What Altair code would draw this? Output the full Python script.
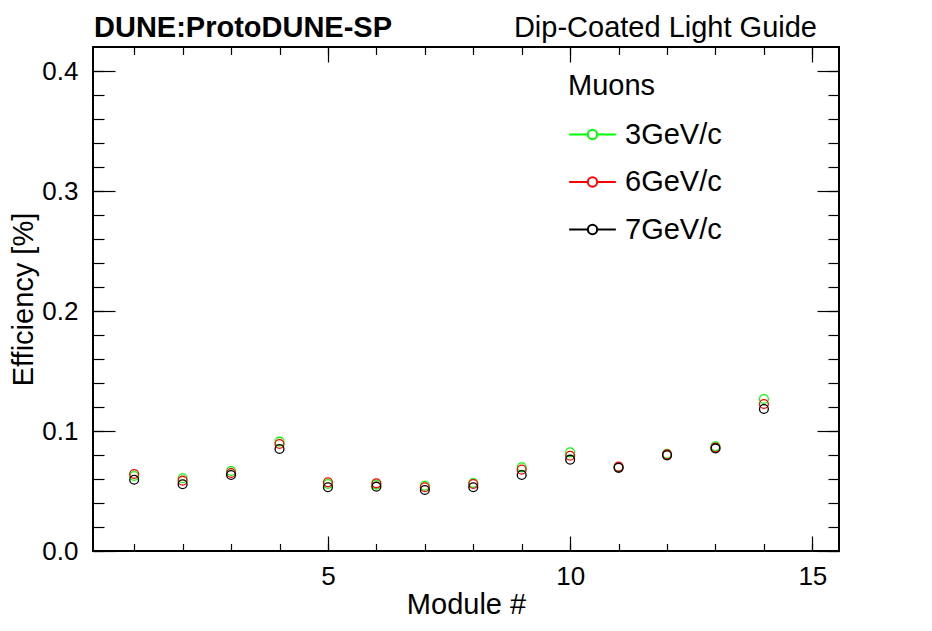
import altair as alt
import pandas as pd

# ---- data ----
modules = list(range(1, 15))
series_names = ["3GeV/c", "6GeV/c", "7GeV/c"]
eff_3gev = [0.0625, 0.0606, 0.0667, 0.0911, 0.0558, 0.0553, 0.0544, 0.0567, 0.0697, 0.0822, 0.0700, 0.0810, 0.0872, 0.1267]
eff_6gev = [0.0642, 0.0586, 0.0650, 0.0892, 0.0572, 0.0564, 0.0531, 0.0558, 0.0678, 0.0794, 0.0703, 0.0805, 0.0862, 0.1225]
eff_7gev = [0.0594, 0.0556, 0.0633, 0.0850, 0.0531, 0.0536, 0.0508, 0.0531, 0.0633, 0.0761, 0.0693, 0.0797, 0.0855, 0.1183]
series_colors = ["#00ff00", "#ff0000", "#000000"]

x_major = [5, 10, 15]
x_minor = list(range(1, 16))
y_major = [0.0, 0.1, 0.2, 0.3, 0.4]
y_minor = [round(0.02 * i, 2) for i in range(0, 21)]

title_left = "DUNE:ProtoDUNE-SP"
title_right = "Dip-Coated Light Guide"
legend_title = "Muons"

FONT = "Liberation Sans"
W, H = 746, 504

rows = []
for name, vals in zip(series_names, [eff_3gev, eff_6gev, eff_7gev]):
    for m, v in zip(modules, vals):
        rows.append({"module": m, "eff": v, "beam": name})
df = pd.DataFrame(rows)

xs = alt.Scale(domain=[0.15, 15.55], nice=False, zero=False)
ys = alt.Scale(domain=[0.0, 0.42], nice=False, zero=False)

sym_path = ("M-1,0L-0.2,0M0.2,0L1,0"
            "M0.2,0A0.2,0.2,0,1,1,-0.2,0A0.2,0.2,0,1,1,0.2,0")

points = alt.Chart(df).mark_point(
    filled=False, shape="circle", size=78, strokeWidth=1.3, opacity=1
).encode(
    x=alt.X("module:Q", scale=xs, axis=alt.Axis(
        title="Module #", values=x_major, ticks=False, tickSize=0, domain=False,
        grid=False, labelFontSize=26, labelFont=FONT, labelColor="black",
        labelPadding=12, labelFlush=False, labelOverlap=False,
        titleFontSize=29, titleFont=FONT, titleFontWeight="normal",
        titleColor="black", titlePadding=1)),
    y=alt.Y("eff:Q", scale=ys, axis=alt.Axis(
        title="Efficiency [%]", values=y_major, format=".1f", ticks=False,
        tickSize=0, domain=False, grid=False, labelFontSize=26, labelFont=FONT,
        labelColor="black", labelPadding=15, labelFlush=False,
        labelOverlap=False, titleFontSize=29, titleFont=FONT,
        titleFontWeight="normal", titleColor="black", titlePadding=3)),
    color=alt.Color("beam:N", scale=alt.Scale(domain=series_names, range=series_colors),
                    sort=series_names,
                    legend=alt.Legend(
                        title=legend_title, orient="none", legendX=475, legendY=25,
                        symbolType=sym_path, symbolSize=2178, symbolStrokeWidth=2,
                        symbolFillColor="transparent",
                        labelFontSize=29, labelFont=FONT, labelColor="black",
                        labelOffset=8, rowPadding=7.5, padding=0,
                        titleFontSize=29, titleFont=FONT, titleFontWeight="normal",
                        titleColor="black", titlePadding=9)),
    order=alt.Order("beam:N"),
)


def tick_layer(xorient, yorient, xvals, yvals, xsize, ysize):
    return alt.Chart(df).mark_point(opacity=0).encode(
        x=alt.X("module:Q", scale=xs, axis=alt.Axis(
            orient=xorient, offset=-H, values=xvals, labels=False, domain=False,
            grid=False, ticks=True, tickSize=xsize, tickWidth=1.2,
            tickColor="black", title=None)),
        y=alt.Y("eff:Q", scale=ys, axis=alt.Axis(
            orient=yorient, offset=-W, values=yvals, labels=False, domain=False,
            grid=False, ticks=True, tickSize=ysize, tickWidth=1.2,
            tickColor="black", title=None)),
    )


t1 = tick_layer("top", "right", x_major, y_major, 15, 22)
t2 = tick_layer("top", "right", x_minor, y_minor, 7.5, 11)
t3 = tick_layer("bottom", "left", x_major, y_major, 15, 22)
t4 = tick_layer("bottom", "left", x_minor, y_minor, 7.5, 11)

txt_left = alt.Chart(pd.DataFrame({"t": [title_left]})).mark_text(
    font=FONT, fontSize=29, fontWeight="bold", align="left",
    baseline="alphabetic", color="black"
).encode(text="t:N", x=alt.value(1), y=alt.value(-10.3))

txt_right = alt.Chart(pd.DataFrame({"t": [title_right]})).mark_text(
    font=FONT, fontSize=29, fontWeight="normal", align="right",
    baseline="alphabetic", color="black"
).encode(text="t:N", x=alt.value(724), y=alt.value(-10.3))

chart = alt.layer(t1, t2, t3, t4, points, txt_left, txt_right).resolve_axis(
    x="independent", y="independent"
).properties(
    width=W, height=H,
    autosize=alt.AutoSizeParams(type="none"),
    padding={"left": 85, "top": 39, "right": 80, "bottom": 72},
    background="white",
).configure_view(stroke="black", strokeWidth=2)

chart.save("out.html", embed_options={"renderer": "svg", "actions": False})
